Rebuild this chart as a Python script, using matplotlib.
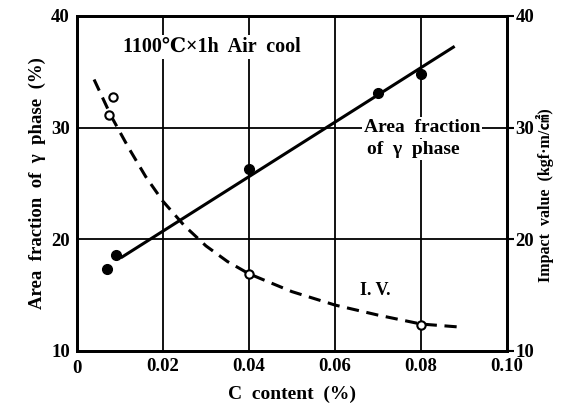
import numpy as np
import matplotlib.pyplot as plt

plt.rcParams['font.family'] = ['Liberation Serif', 'DejaVu Serif', 'Noto Sans CJK JP']
plt.rcParams['font.weight'] = 'bold'
plt.rcParams['axes.labelweight'] = 'bold'

# Area fraction of gamma phase (filled points)
c_gamma = [0.007, 0.009, 0.04, 0.07, 0.08]
gamma = [17.3, 18.6, 26.3, 33.1, 34.8]
# fitted line for gamma phase
line_c = [0.0105, 0.0875]
line_gamma = [18.4, 37.2]

# Impact value (open points, right axis)
c_iv = [0.0075, 0.0085, 0.04, 0.08]
iv = [31.1, 32.7, 16.9, 12.3]
# smooth dashed curve through the I.V. data
curve_c = [0.004, 0.008, 0.012, 0.016, 0.02, 0.025, 0.03, 0.035, 0.04,
           0.05, 0.06, 0.07, 0.08, 0.09]
curve_iv = [34.3, 31.0, 28.2, 25.6, 23.4, 21.2, 19.4, 18.0, 16.9,
            15.3, 14.1, 13.2, 12.4, 12.1]

fig = plt.figure(figsize=(5.61, 4.07), dpi=100)
ax = fig.add_axes([0.137, 0.138, 0.767, 0.823])
ax2 = ax.twinx()

# grid lines
for x in [0.02, 0.04, 0.06, 0.08]:
    ax.axvline(x, color='black', lw=1.3, zorder=1)
for y in [20, 30]:
    ax.axhline(y, color='black', lw=1.3, zorder=1)

ax.plot(line_c, line_gamma, color='black', lw=2.2, zorder=3)
ax.plot(c_gamma, gamma, 'o', color='black', ms=7, zorder=4)

ax2.plot(curve_c, curve_iv, color='black', lw=2.2, ls=(0, (4, 2.5)), zorder=3)
ax2.plot(c_iv, iv, 'o', mfc='white', mec='black', mew=1.5, ms=6, zorder=4)

ax.set_xlim(0, 0.10)
ax.set_ylim(10, 40)
ax2.set_ylim(10, 40)
ax.set_xticks([0.02, 0.04, 0.06, 0.08, 0.10])
ax.set_xticklabels(['0.02', '0.04', '0.06', '0.08', '0.10'])
ax.set_yticks([10, 20, 30, 40])
ax2.set_yticks([10, 20, 30, 40])
ax.tick_params(axis='both', length=0, labelsize=13.5, pad=5)
ax2.tick_params(axis='y', length=5, width=1.5, direction='out', labelsize=13.5, pad=1)
ax.text(0.0, -0.028, '0', transform=ax.transAxes, ha='center', va='top', fontsize=13.5)

for a in (ax, ax2):
    for s in a.spines.values():
        s.set_linewidth(2)

ax.set_xlabel('C  content  (%)', fontsize=14, labelpad=8, fontweight='bold')
ax.set_ylabel('Area  fraction  of  γ  phase  (%)', fontsize=13.5, labelpad=4,
              fontweight='bold')
fig.text(0.972, 0.52, 'Impact  value  (kgf·m/㎠)', fontsize=11.5, rotation=90,
         ha='center', va='center', fontweight='bold')

box = dict(facecolor='white', edgecolor='none', pad=1.5)
ax.text(0.0107, 37.2, '1100℃×1h  Air  cool', fontsize=14.5, ha='left', va='center',
        bbox=box, zorder=5)
ax.text(0.0802, 30.0, 'Area  fraction', fontsize=14, ha='center', va='center',
        bbox=box, zorder=5)
ax.text(0.0782, 28.0, 'of  γ  phase', fontsize=14, ha='center', va='center',
        bbox=box, zorder=5)
ax.text(0.0693, 15.4, 'I. V.', fontsize=13, ha='center', va='center', zorder=5)

fig.savefig('out.png', dpi=100)
